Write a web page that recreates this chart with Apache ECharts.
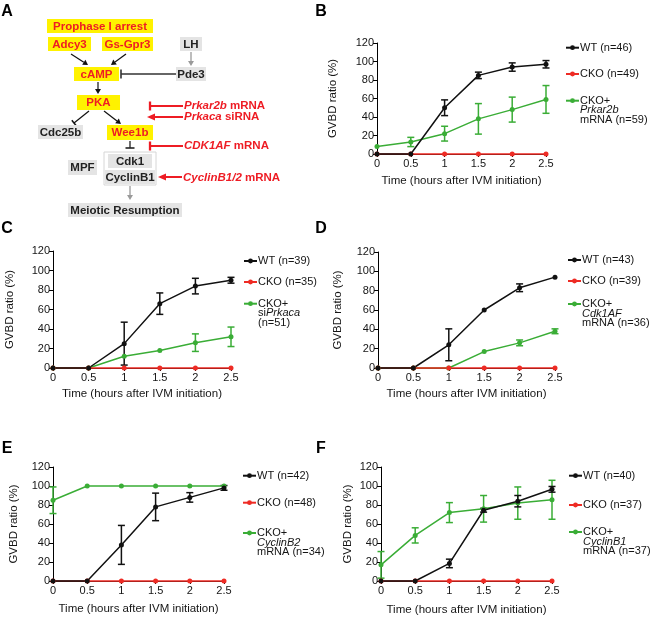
<!DOCTYPE html>
<html><head><meta charset="utf-8">
<script src="https://cdn.jsdelivr.net/npm/echarts@6/dist/echarts.min.js"></script>
<style>html,body{margin:0;padding:0;background:#fff}#c{width:654px;height:618px}</style>
</head><body><div id="c"></div>
<script>
// ---------------- DATA ----------------
const times = [0, 0.5, 1, 1.5, 2, 2.5];
const yMin = 0, yMax = 120, yStep = 20;
const xMin = 0, xMax = 2.5, xStep = 0.5;
const xTitle = 'Time (hours after IVM initiation)';
const yTitle = 'GVBD ratio (%)';

// Panel B
const B_names = ['WT (n=46)', 'CKO (n=49)', 'CKO+ Prkar2b mRNA (n=59)'];
const B_greenLegend = '{n|CKO+}\n{i|Prkar2b}\n{n|mRNA (n=59)}';
const B_wt = [0, 0, 50, 85, 94, 97];
const B_wtErr = [0, 0, 8.5, 3.5, 4.5, 4];
const B_cko = [0, 0, 0, 0, 0, 0];
const B_green = [8, 13, 22, 38, 48, 59];
const B_greenErr = [0, 5, 8, 16.5, 13.5, 15];

// Panel C
const C_names = ['WT (n=39)', 'CKO (n=35)', 'CKO+ siPrkaca (n=51)'];
const C_greenLegend = '{n|CKO+}\n{n|si}{i|Prkaca}\n{n|(n=51)}';
const C_wt = [0, 0, 25, 66, 84, 90];
const C_wtErr = [0, 0, 22, 11, 8, 3];
const C_cko = [0, 0, 0, 0, 0, 0];
const C_green = [0, 0, 12, 18, 26, 32];
const C_greenErr = [0, 0, 0, 0, 9, 10];

// Panel D
const D_names = ['WT (n=43)', 'CKO (n=39)', 'CKO+ Cdk1AF mRNA (n=36)'];
const D_greenLegend = '{n|CKO+}\n{i|Cdk1AF}\n{n|mRNA (n=36)}';
const D_wt = [0, 0, 24, 60, 83, 94];
const D_wtErr = [0, 0, 16.5, 0, 4, 0];
const D_cko = [0, 0, 0, 0, 0, 0];
const D_green = [0, 0, 0, 17, 26, 38];
const D_greenErr = [0, 0, 0, 0, 3, 2.5];

// Panel E
const E_names = ['WT (n=42)', 'CKO (n=48)', 'CKO+ CyclinB2 mRNA (n=34)'];
const E_greenLegend = '{n|CKO+}\n{i|CyclinB2}\n{n|mRNA (n=34)}';
const E_wt = [0, 0, 38, 78, 88, 98];
const E_wtErr = [0, 0, 20.5, 14.5, 5, 2.5];
const E_cko = [0, 0, 0, 0, 0, 0];
const E_green = [85, 100, 100, 100, 100, 100];
const E_greenErr = [14, 0, 0, 0, 0, 0];

// Panel F
const F_names = ['WT (n=40)', 'CKO (n=37)', 'CKO+ CyclinB1 mRNA (n=37)'];
const F_greenLegend = '{n|CKO+}\n{i|CyclinB1}\n{n|mRNA (n=37)}';
const F_wt = [0, 0, 18.5, 74.5, 84, 96.5];
const F_wtErr = [0, 0, 4.5, 2, 6, 3];
const F_cko = [0, 0, 0, 0, 0, 0];
const F_green = [17, 48, 72, 76, 82, 85.5];
const F_greenErr = [14, 8, 10.5, 14, 17, 20.5];

// ---------------- STYLE / LAYOUT ----------------
const FONT = "'Liberation Sans', Arial, Helvetica, sans-serif";
const COL_WT = '#111111', COL_CKO = '#ee2b24', COL_GREEN = '#3aad36';
const TXT = '#151515';

const panels = [
  {names: B_names, gl: B_greenLegend, wt: B_wt, wtErr: B_wtErr, cko: B_cko, gr: B_green, grErr: B_greenErr,
   grid: {left: 377, top: 43, width: 169, height: 111}, yGap: 38, xGap: 21, legX: 565, legY: [47.7, 74, 100.7]},
  {names: C_names, gl: C_greenLegend, wt: C_wt, wtErr: C_wtErr, cko: C_cko, gr: C_green, grErr: C_greenErr,
   grid: {left: 53, top: 251, width: 178, height: 117}, yGap: 37, xGap: 20, legX: 243, legY: [261, 282, 303.7]},
  {names: D_names, gl: D_greenLegend, wt: D_wt, wtErr: D_wtErr, cko: D_cko, gr: D_green, grErr: D_greenErr,
   grid: {left: 378, top: 252, width: 177, height: 116}, yGap: 34, xGap: 20, legX: 567, legY: [260, 281, 304]},
  {names: E_names, gl: E_greenLegend, wt: E_wt, wtErr: E_wtErr, cko: E_cko, gr: E_green, grErr: E_greenErr,
   grid: {left: 53, top: 467, width: 171, height: 114}, yGap: 33, xGap: 22, legX: 242, legY: [475.7, 502.7, 533]},
  {names: F_names, gl: F_greenLegend, wt: F_wt, wtErr: F_wtErr, cko: F_cko, gr: F_green, grErr: F_greenErr,
   grid: {left: 381, top: 467, width: 171, height: 114}, yGap: 27, xGap: 23, legX: 568, legY: [475.7, 505, 532]}
];

function errRender(color) {
  return function (params, api) {
    const x = api.value(0), lo = api.value(1), hi = api.value(2);
    const p1 = api.coord([x, lo]), p2 = api.coord([x, hi]);
    const w = 3.5, st = {stroke: color, lineWidth: 1.5};
    return {type: 'group', children: [
      {type: 'line', shape: {x1: p1[0], y1: p1[1], x2: p2[0], y2: p2[1]}, style: st},
      {type: 'line', shape: {x1: p1[0] - w, y1: p1[1], x2: p1[0] + w, y2: p1[1]}, style: st},
      {type: 'line', shape: {x1: p2[0] - w, y1: p2[1], x2: p2[0] + w, y2: p2[1]}, style: st}
    ]};
  };
}
function lineSeries(name, vals, color, i) {
  return {type: 'line', name: name, xAxisIndex: i, yAxisIndex: i, clip: false,
    data: times.map((t, k) => [t, vals[k]]), symbol: 'circle', symbolSize: 5, showAllSymbol: true,
    lineStyle: {color: color, width: 1.5}, itemStyle: {color: color}, emphasis: {disabled: true}};
}
function errSeries(vals, errs, color, i) {
  const d = [];
  times.forEach((t, k) => { if (errs[k] > 0) d.push([t, vals[k] - errs[k], vals[k] + errs[k]]); });
  return {type: 'custom', xAxisIndex: i, yAxisIndex: i, clip: false, silent: true,
    encode: {x: 0, y: [1, 2]}, data: d, renderItem: errRender(color)};
}

const grids = [], xAxes = [], yAxes = [], series = [], legends = [];
const LH = 9.5, TGAP = -4;
panels.forEach((p, i) => {
  grids.push(Object.assign({containLabel: false}, p.grid));
  xAxes.push({gridIndex: i, type: 'value', min: xMin, max: xMax, interval: xStep,
    axisLine: {lineStyle: {color: '#000', width: 1}}, axisTick: {show: true, length: 3, lineStyle: {color: '#000'}},
    axisLabel: {fontSize: 11, color: TXT, margin: 4, fontFamily: FONT}, splitLine: {show: false},
    name: xTitle, nameLocation: 'middle', nameGap: p.xGap, nameTextStyle: {fontSize: 11.5, color: TXT, fontFamily: FONT}});
  yAxes.push({gridIndex: i, type: 'value', min: yMin, max: yMax, interval: yStep,
    axisLine: {show: true, lineStyle: {color: '#000', width: 1}}, axisTick: {show: true, length: 4, lineStyle: {color: '#000'}},
    axisLabel: {fontSize: 11, color: TXT, margin: 3, fontFamily: FONT}, splitLine: {show: false},
    name: yTitle, nameLocation: 'middle', nameRotate: 90, nameGap: p.yGap, nameTextStyle: {fontSize: 11.5, color: TXT, fontFamily: FONT}});
  series.push(lineSeries(p.names[2], p.gr, COL_GREEN, i));
  series.push(lineSeries(p.names[1], p.cko, COL_CKO, i));
  series.push(lineSeries(p.names[0], p.wt, COL_WT, i));
  series.push(errSeries(p.gr, p.grErr, COL_GREEN, i));
  series.push(errSeries(p.wt, p.wtErr, COL_WT, i));
  const base = {orient: 'vertical', padding: 0, itemWidth: 13, itemHeight: 6, itemGap: 0, selectedMode: false,
    left: p.legX, inactiveColor: '#ccc'};
  legends.push(Object.assign({}, base, {data: [p.names[0]], top: p.legY[0] - 6,
    textStyle: {fontSize: 11, lineHeight: 12, color: TXT, fontFamily: FONT, padding: [0, 0, 0, TGAP]}}));
  legends.push(Object.assign({}, base, {data: [p.names[1]], top: p.legY[1] - 6,
    textStyle: {fontSize: 11, lineHeight: 12, color: TXT, fontFamily: FONT, padding: [0, 0, 0, TGAP]}}));
  const gl = p.gl;
  legends.push(Object.assign({}, base, {data: [p.names[2]], top: p.legY[2] - 2.5 * LH,
    formatter: function () { return gl; },
    textStyle: {fontSize: 11, lineHeight: LH, color: TXT, fontFamily: FONT, padding: [2 * LH, 0, 0, TGAP],
      rich: {n: {fontSize: 11, lineHeight: LH, color: TXT, fontFamily: FONT},
             i: {fontSize: 11, lineHeight: LH, color: TXT, fontFamily: FONT, fontStyle: 'italic'}}}}));
});

// ---------------- DIAGRAM (panel A) ----------------
const RED = '#ee1c24', YEL = '#fff200', GRY = '#e4e4e4', DARK = '#222';
const DFONT = 'bold 11.5px ' + FONT;
const g = [];
function box(x, y, w, h, fill, text, color) {
  g.push({type: 'rect', shape: {x: x, y: y, width: w, height: h}, style: {fill: fill}, silent: true});
  g.push({type: 'text', style: {text: text, x: x + w / 2, y: y + h / 2 + 0.5, align: 'center', verticalAlign: 'middle',
    font: DFONT, fill: color}, silent: true});
}
function seg(x1, y1, x2, y2, color, w) {
  g.push({type: 'line', shape: {x1: x1, y1: y1, x2: x2, y2: y2}, style: {stroke: color, lineWidth: w}, silent: true});
}
function arrow(x1, y1, x2, y2, color, w, hl, hw) {
  const dx = x2 - x1, dy = y2 - y1, L = Math.hypot(dx, dy), ux = dx / L, uy = dy / L;
  const bx = x2 - ux * hl, by = y2 - uy * hl, nx = -uy, ny = ux;
  seg(x1, y1, bx, by, color, w);
  g.push({type: 'polygon', shape: {points: [[x2, y2], [bx + nx * hw, by + ny * hw], [bx - nx * hw, by - ny * hw]]},
    style: {fill: color}, silent: true});
}
function inhibit(x1, y1, x2, y2, color, w, bl) {
  const dx = x2 - x1, dy = y2 - y1, L = Math.hypot(dx, dy), nx = -dy / L, ny = dx / L;
  seg(x1, y1, x2, y2, color, w);
  seg(x2 + nx * bl, y2 + ny * bl, x2 - nx * bl, y2 - ny * bl, color, w + 0.3);
}
function redLabel(x, y, it, rest) {
  g.push({type: 'text', style: {text: '{i|' + it + '}{n|' + rest + '}', x: x, y: y, align: 'left', verticalAlign: 'middle',
    rich: {i: {font: 'italic bold 11.5px ' + FONT, fill: RED}, n: {font: DFONT, fill: RED}}}, silent: true});
}

box(47, 19, 106, 14, YEL, 'Prophase I arrest', RED);
box(48, 37, 43, 14, YEL, 'Adcy3', RED);
box(102, 37, 51, 14, YEL, 'Gs-Gpr3', RED);
box(180, 37, 22, 14, GRY, 'LH', DARK);
arrow(191, 52, 191, 66, '#9a9a9a', 1.3, 5, 3);
box(176, 67, 30, 14, GRY, 'Pde3', DARK);
box(74, 67, 45, 14, YEL, 'cAMP', RED);
inhibit(176, 74, 121, 74, '#333', 1.3, 4.5);
arrow(71, 54, 88, 65, '#111', 1.2, 5, 3);
arrow(126, 54, 111, 65, '#111', 1.2, 5, 3);
arrow(98, 82, 98, 94, '#111', 1.2, 5, 3);
box(77, 95, 43, 15, YEL, 'PKA', RED);
inhibit(89, 111, 74, 123, '#111', 1.2, 3.5);
arrow(104, 111, 121, 124, '#111', 1.2, 5, 3);
box(38, 125, 45, 14, GRY, 'Cdc25b', DARK);
box(107, 125, 46, 15, YEL, 'Wee1b', RED);
inhibit(130, 141, 130, 148, '#222', 1.3, 4.5);
g.push({type: 'rect', shape: {x: 104, y: 152, width: 52, height: 33}, style: {fill: '#fff', stroke: '#d6d6d6', lineWidth: 1}, silent: true});
box(108, 154, 44, 14, GRY, 'Cdk1', DARK);
box(105, 170, 50, 14, GRY, 'CyclinB1', DARK);
box(68, 160, 29, 15, GRY, 'MPF', DARK);
arrow(130, 186, 130, 200, '#9a9a9a', 1.3, 5, 3);
box(68, 203, 114, 14, GRY, 'Meiotic Resumption', DARK);
inhibit(183, 106, 150, 106, RED, 2, 4.5);
redLabel(184, 106, 'Prkar2b', ' mRNA');
arrow(183, 117, 147, 117, RED, 2, 8, 3.5);
redLabel(184, 117, 'Prkaca', ' siRNA');
inhibit(183, 146, 150, 146, RED, 2, 4.5);
redLabel(184, 146, 'CDK1AF', ' mRNA');
arrow(182, 177, 158, 177, RED, 2, 8, 3.5);
redLabel(183, 178, 'CyclinB1/2', ' mRNA');

// panel letters
[['A', 7, 12], ['B', 321, 12], ['C', 7, 229], ['D', 321, 229], ['E', 7, 449], ['F', 321, 449]].forEach(l => {
  g.push({type: 'text', style: {text: l[0], x: l[1], y: l[2], align: 'center', verticalAlign: 'middle',
    font: 'bold 16px ' + FONT, fill: '#000'}, silent: true});
});

const chart = echarts.init(document.getElementById('c'), null, {renderer: 'canvas'});
chart.setOption({
  animation: false,
  backgroundColor: '#fff',
  textStyle: {fontFamily: FONT},
  grid: grids, xAxis: xAxes, yAxis: yAxes, series: series, legend: legends,
  graphic: {elements: g}
});
</script></body></html>
